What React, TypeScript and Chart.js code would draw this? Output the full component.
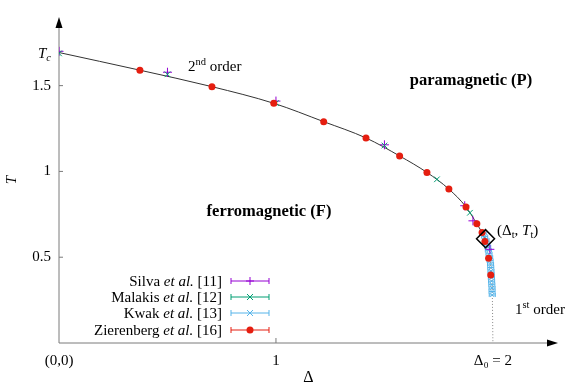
import React, { useEffect, useRef } from 'react';
import { Chart, registerables } from 'chart.js';
Chart.register(...registerables);

const FONT = "'Liberation Serif', 'DejaVu Serif', serif";

// Axis ticks
const TC = 1.693;
const xTicks = [0, 1, 2];
const xTickLabels = ['(0,0)', '1', 'Δ₀ = 2'];
const yTicks = [0.5, 1, 1.5, TC];
const yTickLabels = ['0.5', '1', '1.5', ''];

// Second-order transition line (solid)
const curveD = [0, 0.373, 0.705, 0.99, 1.22, 1.415, 1.57, 1.696, 1.797, 1.876, 1.926, 1.95, 1.966];
const curveT = [TC, 1.59, 1.494, 1.397, 1.29, 1.195, 1.09, 0.994, 0.897, 0.793, 0.695, 0.644, 0.608];

// First-order transition line (dotted)
const firstD = [1.966, 1.985, 1.993, 1.997, 2.0];
const firstT = [0.608, 0.5, 0.4, 0.3, 0.0];

// Silva et al. [11]
const silvaD = [0, 0.5, 1, 1.5, 1.87, 1.908, 1.986];
const silvaT = [1.70, 1.578, 1.41, 1.155, 0.80, 0.712, 0.546];

// Malakis et al. [12]
const malakisD = [0, 0.5, 1, 1.5, 1.742, 1.894];
const malakisT = [1.688, 1.566, 1.398, 1.151, 0.954, 0.759];

// Kwak et al. [13]
const kwakD = [1.955, 1.962, 1.968, 1.972, 1.976, 1.979, 1.982, 1.985, 1.987, 1.989, 1.990, 1.991, 1.992, 1.993, 1.994, 1.995, 1.996, 1.996, 1.997];
const kwakT = [0.64, 0.62, 0.60, 0.58, 0.56, 0.54, 0.52, 0.50, 0.48, 0.46, 0.44, 0.42, 0.40, 0.38, 0.36, 0.34, 0.32, 0.30, 0.28];
const kwakErr = 0.014;

// Zierenberg et al. [16]
const zierD = [0.373, 0.705, 0.99, 1.22, 1.415, 1.57, 1.696, 1.797, 1.876, 1.926, 1.95, 1.963, 1.98, 1.99];
const zierT = [1.59, 1.494, 1.397, 1.29, 1.195, 1.09, 0.994, 0.897, 0.793, 0.695, 0.644, 0.592, 0.494, 0.397];

// Tricritical point
const tricritD = [1.966];
const tricritT = [0.608];

const legendNames = ['Silva', 'Malakis', 'Kwak', 'Zierenberg'];
const legendRefs = ['[11]', '[12]', '[13]', '[16]'];
const legendColors = ['#9400d3', '#009e73', '#56b4e9', '#e51e10'];
const legendMarkers = ['plus', 'x', 'x', 'dot'];

const pts = (xs: number[], ys: number[]) => xs.map((v, i) => ({ x: v, y: ys[i] }));

type Part = { t: string; f: string; dy?: number };
function drawRich(ctx: CanvasRenderingContext2D, parts: Part[], x: number, y: number, align: 'left' | 'right' | 'center') {
  let w = 0;
  for (const p of parts) { ctx.font = p.f; w += ctx.measureText(p.t).width; }
  let cx = align === 'left' ? x : align === 'right' ? x - w : x - w / 2;
  ctx.textAlign = 'left';
  ctx.textBaseline = 'alphabetic';
  for (const p of parts) {
    ctx.font = p.f;
    ctx.fillText(p.t, cx, y + (p.dy || 0));
    cx += ctx.measureText(p.t).width;
  }
}

function drawMarker(ctx: CanvasRenderingContext2D, kind: string, x: number, y: number, color: string) {
  ctx.strokeStyle = color; ctx.fillStyle = color; ctx.lineWidth = 1;
  ctx.beginPath();
  if (kind === 'plus') { ctx.moveTo(x - 4, y); ctx.lineTo(x + 4, y); ctx.moveTo(x, y - 4); ctx.lineTo(x, y + 4); ctx.stroke(); }
  else if (kind === 'x') { ctx.moveTo(x - 3, y - 3); ctx.lineTo(x + 3, y + 3); ctx.moveTo(x - 3, y + 3); ctx.lineTo(x + 3, y - 3); ctx.stroke(); }
  else { ctx.arc(x, y, 3.5, 0, Math.PI * 2); ctx.fill(); }
}

const overlay = {
  id: 'overlay',
  beforeDatasetsDraw(chart: any) {
    const { ctx, chartArea: ca, scales } = chart;
    const xs = scales.x, ys = scales.y;
    const x0 = xs.getPixelForValue(0), y0 = ys.getPixelForValue(0);
    ctx.save();
    ctx.strokeStyle = '#7a7a7a'; ctx.lineWidth = 1;
    ctx.beginPath(); ctx.moveTo(x0, y0); ctx.lineTo(x0, ca.top + 8); ctx.stroke();
    ctx.beginPath(); ctx.moveTo(x0, y0); ctx.lineTo(ca.right - 8, y0); ctx.stroke();
    // tick marks
    for (const v of yTicks.slice(0, 3)) {
      const py = ys.getPixelForValue(v);
      ctx.beginPath(); ctx.moveTo(x0, py); ctx.lineTo(x0 + 4, py); ctx.stroke();
    }
    const px1 = xs.getPixelForValue(1);
    ctx.beginPath(); ctx.moveTo(px1, y0); ctx.lineTo(px1, y0 - 5); ctx.stroke();
    // arrowheads
    ctx.fillStyle = '#000';
    ctx.beginPath(); ctx.moveTo(x0, ca.top); ctx.lineTo(x0 - 3.5, ca.top + 11); ctx.lineTo(x0 + 3.5, ca.top + 11); ctx.closePath(); ctx.fill();
    ctx.beginPath(); ctx.moveTo(ca.right, y0); ctx.lineTo(ca.right - 11, y0 - 3.5); ctx.lineTo(ca.right - 11, y0 + 3.5); ctx.closePath(); ctx.fill();
    // Kwak error bars
    ctx.strokeStyle = '#56b4e9'; ctx.lineWidth = 1;
    kwakD.forEach((d, i) => {
      const a = xs.getPixelForValue(d - kwakErr), b = xs.getPixelForValue(d + kwakErr), py = ys.getPixelForValue(kwakT[i]);
      ctx.beginPath(); ctx.moveTo(a, py); ctx.lineTo(b, py);
      ctx.moveTo(a, py - 2); ctx.lineTo(a, py + 2); ctx.moveTo(b, py - 2); ctx.lineTo(b, py + 2); ctx.stroke();
    });
    ctx.restore();
  },
  afterDraw(chart: any) {
    const { ctx, scales } = chart;
    const ys = scales.y;
    ctx.save();
    ctx.fillStyle = '#000';
    const reg = `15px ${FONT}`, it = `italic 15px ${FONT}`, bold = `bold 16.5px ${FONT}`, sm = `10.5px ${FONT}`, smi = `italic 10.5px ${FONT}`;
    // T_c tick label
    const yc = ys.getPixelForValue(TC);
    drawRich(ctx, [{ t: 'T', f: `italic 15px ${FONT}` }, { t: 'c', f: smi, dy: 3 }], 51, yc + 5, 'right');
    // annotations
    drawRich(ctx, [{ t: '2', f: reg }, { t: 'nd', f: sm, dy: -6 }, { t: ' order', f: reg }], 188, 71, 'left');
    drawRich(ctx, [{ t: 'paramagnetic (P)', f: bold }], 471, 85, 'center');
    drawRich(ctx, [{ t: 'ferromagnetic (F)', f: bold }], 269, 216, 'center');
    drawRich(ctx, [{ t: '(Δ', f: reg }, { t: 't', f: sm, dy: 3 }, { t: ', ', f: reg }, { t: 'T', f: it }, { t: 't', f: sm, dy: 3 }, { t: ')', f: reg }], 497, 235, 'left');
    drawRich(ctx, [{ t: '1', f: reg }, { t: 'st', f: sm, dy: -6 }, { t: ' order', f: reg }], 515, 314, 'left');
    // legend
    const rows = [281, 297, 313, 330];
    legendNames.forEach((n, i) => {
      const ry = rows[i];
      ctx.fillStyle = '#000';
      drawRich(ctx, [{ t: n + ' ', f: reg }, { t: 'et al.', f: it }, { t: ' ' + legendRefs[i], f: reg }], 222, ry + 5, 'right');
      const c = legendColors[i];
      ctx.strokeStyle = c; ctx.lineWidth = 1;
      ctx.beginPath(); ctx.moveTo(231, ry); ctx.lineTo(269, ry);
      ctx.moveTo(231, ry - 3); ctx.lineTo(231, ry + 3); ctx.moveTo(269, ry - 3); ctx.lineTo(269, ry + 3); ctx.stroke();
      drawMarker(ctx, legendMarkers[i], 250, ry, c);
    });
    ctx.restore();
  },
};

export default function App() {
  const ref = useRef<HTMLCanvasElement>(null);
  useEffect(() => {
    if (!ref.current) return;
    const chart = new Chart(ref.current, {
      type: 'scatter',
      data: {
        datasets: [
          { data: pts(tricritD, tricritT), pointStyle: 'rectRot', pointRadius: 9, borderColor: '#000', backgroundColor: 'rgba(0,0,0,0)', pointBorderWidth: 1.5, order: 0 } as any,
          { data: pts(zierD, zierT), pointStyle: 'circle', pointRadius: 3.5, backgroundColor: '#e51e10', borderColor: '#e51e10', pointBorderWidth: 0, order: 1 },
          { data: pts(malakisD, malakisT), pointStyle: 'crossRot', pointRadius: 4, borderColor: '#009e73', pointBorderWidth: 1, order: 2 },
          { data: pts(silvaD, silvaT), pointStyle: 'cross', pointRadius: 4.5, borderColor: '#9400d3', pointBorderWidth: 1, order: 3 },
          { data: pts(kwakD, kwakT), pointStyle: 'crossRot', pointRadius: 3, borderColor: '#56b4e9', pointBorderWidth: 1, order: 4 },
          { data: pts(firstD, firstT), showLine: true, pointRadius: 0, borderColor: '#888', borderWidth: 1, borderDash: [1, 2], cubicInterpolationMode: 'monotone', order: 5 } as any,
          { data: pts(curveD, curveT), showLine: true, pointRadius: 0, borderColor: '#333', borderWidth: 1, cubicInterpolationMode: 'monotone', order: 6 } as any,
        ],
      },
      options: {
        animation: false,
        responsive: false,
        maintainAspectRatio: false,
        layout: { padding: { top: 12, right: 24, left: 0, bottom: 0 } },
        plugins: { legend: { display: false }, tooltip: { enabled: false } },
        scales: {
          x: {
            type: 'linear', min: 0, max: 2.3,
            afterBuildTicks: (s: any) => { s.ticks = xTicks.map((v) => ({ value: v })); },
            afterFit: (s: any) => { s.height = 45; },
            ticks: { callback: (v: any) => xTickLabels[xTicks.indexOf(Number(v))] ?? '', color: '#000', font: { family: FONT, size: 15 }, padding: 9, maxRotation: 0, autoSkip: false },
            grid: { display: false, drawTicks: false },
            border: { display: false },
            title: { display: true, text: 'Δ', color: '#000', font: { family: FONT, size: 16 }, padding: { top: 0, bottom: 1 } },
          },
          y: {
            type: 'linear', min: 0, max: 1.9,
            afterBuildTicks: (s: any) => { s.ticks = yTicks.map((v) => ({ value: v })); },
            afterFit: (s: any) => { s.width = 59; },
            ticks: { callback: (v: any) => yTickLabels[yTicks.indexOf(Number(v))] ?? '', color: '#000', font: { family: FONT, size: 15 }, padding: 8, autoSkip: false },
            grid: { display: false, drawTicks: false },
            border: { display: false },
            title: { display: true, text: 'T', color: '#000', font: { family: FONT, size: 15, style: 'italic' }, padding: { top: 3, bottom: 0 } },
          },
        },
      },
      plugins: [overlay],
    } as any);
    return () => chart.destroy();
  }, []);
  return (
    <div style={{ position: 'absolute', left: 0, top: 0, width: 582, height: 388 }}>
      <canvas ref={ref} width={582} height={388} style={{ width: 582, height: 388 }} />
    </div>
  );
}
